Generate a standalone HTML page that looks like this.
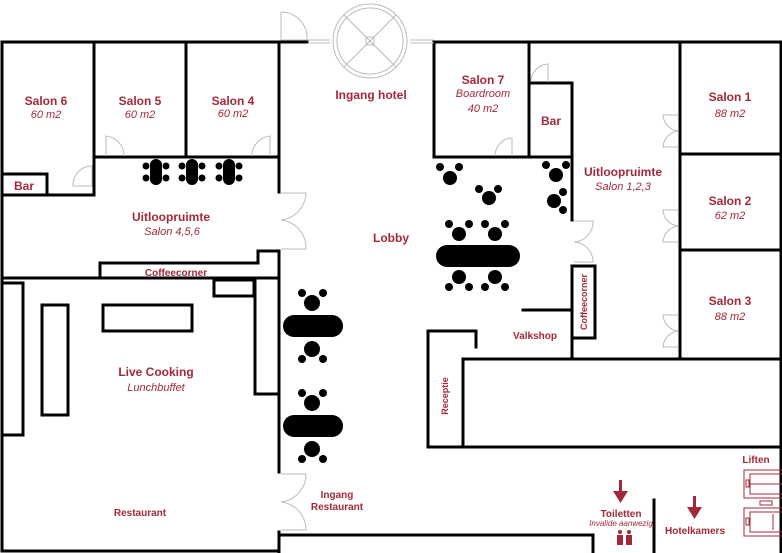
<!DOCTYPE html>
<html><head><meta charset="utf-8"><style>
html,body{margin:0;padding:0;background:#fff;width:782px;height:553px;overflow:hidden}
svg{display:block}
text{font-family:"Liberation Sans",sans-serif;fill:#a3293a}
.b{font-weight:bold;font-size:12px}
.i{font-style:italic;font-size:11px}
</style></head><body>
<svg width="782" height="553" viewBox="0 0 782 553">
<g stroke="#000" stroke-width="3" fill="none" stroke-linecap="square">
<!-- top walls -->
<line x1="2" y1="42" x2="307" y2="42"/>
<line x1="434" y1="42" x2="781" y2="42"/>
<line x1="2" y1="42" x2="2" y2="551"/>
<line x1="2" y1="551" x2="279" y2="551"/>
<!-- salons 4-6 -->
<line x1="94" y1="42" x2="94" y2="195"/>
<line x1="186" y1="42" x2="186" y2="157"/>
<line x1="94" y1="157" x2="279" y2="157"/>
<line x1="279" y1="42" x2="279" y2="192"/>
<rect x="2" y="174" width="45" height="21"/>
<line x1="2" y1="195" x2="94" y2="195"/>
<polyline points="279,251 258,251 258,263 100,263 100,278"/>
<line x1="2" y1="278" x2="279" y2="278"/>
<line x1="279" y1="251" x2="279" y2="472"/>
<line x1="279" y1="532" x2="279" y2="553"/>
<line x1="279" y1="535" x2="593" y2="535"/>
<line x1="593" y1="535" x2="593" y2="553"/>
<!-- restaurant furniture -->
<rect x="2" y="283" width="21" height="152"/>
<rect x="42" y="305" width="26" height="110"/>
<rect x="103" y="305" width="89" height="26"/>
<rect x="214" y="280" width="40" height="16"/>
<polyline points="255,280 255,394 279,394"/>
<!-- right side -->
<rect x="434" y="42" width="95" height="115"/>
<rect x="529" y="83" width="43" height="74"/>
<line x1="572" y1="157" x2="572" y2="220"/>
<rect x="572" y="266" width="23" height="72"/>
<line x1="572" y1="338" x2="572" y2="359"/>
<line x1="680" y1="42" x2="680" y2="359"/>
<line x1="680" y1="154" x2="781" y2="154"/>
<line x1="680" y1="250" x2="781" y2="250"/>
<line x1="463" y1="359" x2="781" y2="359"/>
<line x1="463" y1="359" x2="463" y2="447"/>
<polyline points="476,347 476,331 428,331 428,447 781,447"/>
<line x1="523" y1="310" x2="572" y2="310"/>
<line x1="781" y1="42" x2="781" y2="553"/>
<line x1="654" y1="500" x2="654" y2="553"/>
</g>
<!-- doors (light) -->
<g stroke="#bbb" stroke-width="1" fill="none">
<path d="M281 12 L281 40 L307 40 A26 26 0 0 0 281 12"/>
<path d="M308 40 L330 40 M308 43 L330 43"/>
<path d="M410 40 L434 40 M410 43 L434 43"/>
<circle cx="370" cy="41" r="37"/><circle cx="370" cy="41" r="33"/>
<path d="M344 15 L396 67 M396 15 L344 67"/>
<rect x="366" y="37" width="8" height="8"/>
<path d="M106 156 L106 136 A20 20 0 0 1 124 156"/>
<path d="M270 156 L270 136 A20 20 0 0 0 252 156"/>
<path d="M92 166 L92 186 L73 186 A19 19 0 0 1 92 166"/>
<path d="M281 193 L306 193 A28 28 0 0 1 281 220 A28 28 0 0 1 306 249 L281 249"/>
<path d="M281 474 L306 474 A28 28 0 0 1 281 502 A28 28 0 0 1 306 530 L281 530"/>
<path d="M113 156 A20 20 0 0 0 113 156"/>
<path d="M512 156 L512 138 A18 18 0 0 0 495 156"/>
<path d="M548 82 L548 64 A18 18 0 0 0 531 82"/>
<path d="M574 221 L593 221 A20 20 0 0 1 574 242 A20 20 0 0 1 593 262 L574 262"/>
<path d="M678 115 L663 115 A17 17 0 0 0 678 131 A17 17 0 0 0 663 147 L678 147"/>
<path d="M678 210 L663 210 A17 17 0 0 0 678 226 A17 17 0 0 0 663 242 L678 242"/>
<path d="M678 315 L663 315 A17 17 0 0 0 678 331 A17 17 0 0 0 663 347 L678 347"/>
</g>
<!-- furniture -->
<g fill="#000">
<rect x="150" y="159" width="12" height="26" rx="6"/><rect x="186" y="159" width="12" height="26" rx="6"/><rect x="223" y="159" width="12" height="26" rx="6"/>
<circle cx="146" cy="166" r="3.5"/><circle cx="146" cy="178" r="3.5"/><circle cx="166" cy="166" r="3.5"/><circle cx="166" cy="178" r="3.5"/>
<circle cx="182" cy="166" r="3.5"/><circle cx="182" cy="178" r="3.5"/><circle cx="202" cy="166" r="3.5"/><circle cx="202" cy="178" r="3.5"/>
<circle cx="219" cy="166" r="3.5"/><circle cx="219" cy="178" r="3.5"/><circle cx="239" cy="166" r="3.5"/><circle cx="239" cy="178" r="3.5"/>
<rect x="283" y="315" width="60" height="22" rx="11"/>
<circle cx="312" cy="303" r="8"/><circle cx="302" cy="293" r="4"/><circle cx="323" cy="293" r="4"/>
<circle cx="312" cy="349" r="8"/><circle cx="302" cy="359" r="4"/><circle cx="323" cy="359" r="4"/>
<rect x="283" y="415" width="60" height="22" rx="11"/>
<circle cx="312" cy="403" r="8"/><circle cx="302" cy="393" r="4"/><circle cx="323" cy="393" r="4"/>
<circle cx="312" cy="449" r="8"/><circle cx="302" cy="459" r="4"/><circle cx="323" cy="459" r="4"/>
<rect x="436" y="245" width="84" height="22" rx="11"/>
<circle cx="459" cy="234" r="7"/><circle cx="449" cy="224" r="4"/><circle cx="469" cy="224" r="4"/>
<circle cx="495" cy="234" r="7"/><circle cx="485" cy="224" r="4"/><circle cx="505" cy="224" r="4"/>
<circle cx="459" cy="277" r="7"/><circle cx="449" cy="287" r="4"/><circle cx="469" cy="287" r="4"/>
<circle cx="495" cy="277" r="7"/><circle cx="485" cy="287" r="4"/><circle cx="505" cy="287" r="4"/>
<circle cx="450" cy="178" r="7"/><circle cx="440" cy="167" r="4"/><circle cx="459" cy="167" r="4"/>
<circle cx="489" cy="198" r="7"/><circle cx="479" cy="189" r="4"/><circle cx="498" cy="189" r="4"/>
<circle cx="556" cy="175" r="7"/><circle cx="546" cy="165" r="4"/><circle cx="566" cy="165" r="4"/>
<circle cx="554" cy="201" r="7"/><circle cx="563" cy="192" r="4"/><circle cx="563" cy="210" r="4"/>
</g>
<!-- lifts -->
<g stroke="#a3293a" stroke-width="1" fill="none">
<rect x="744" y="470" width="40" height="28"/><rect x="750" y="474" width="34" height="20"/><line x1="750" y1="484" x2="784" y2="484"/><rect x="746" y="480" width="3" height="7"/>
<rect x="760" y="501" width="12" height="4"/>
<rect x="744" y="508" width="40" height="28"/><rect x="750" y="512" width="34" height="20"/><line x1="773" y1="514" x2="773" y2="530"/><rect x="746" y="518" width="3" height="7"/>
</g>
<g fill="#a3293a">
<rect x="619" y="480" width="3" height="12"/><polygon points="613,491 628,491 620.5,503"/>
<rect x="693" y="496" width="3" height="12"/><polygon points="687,507 702,507 694.5,519"/>
<circle cx="620" cy="532" r="2"/><rect x="617" y="535" width="6" height="10"/>
<circle cx="629" cy="532" r="2"/><rect x="626" y="535" width="6" height="10"/>
</g>
<!-- labels -->
<g text-anchor="middle">
<text class="b" x="46" y="105">Salon 6</text><text class="i" x="46" y="118">60 m2</text>
<text class="b" x="140" y="105">Salon 5</text><text class="i" x="140" y="118">60 m2</text>
<text class="b" x="233" y="105">Salon 4</text><text class="i" x="233" y="117">60 m2</text>
<text class="b" x="24" y="190">Bar</text>
<text class="b" x="171" y="221">Uitloopruimte</text><text class="i" x="172" y="235">Salon 4,5,6</text>
<text class="b" x="176" y="276" style="font-size:10px">Coffeecorner</text>
<text class="b" x="371" y="99">Ingang hotel</text>
<text class="b" x="391" y="242">Lobby</text>
<text class="b" x="483" y="84">Salon 7</text><text class="i" x="483" y="97">Boardroom</text><text class="i" x="483" y="112">40 m2</text>
<text class="b" x="551" y="125">Bar</text>
<text class="b" x="623" y="176">Uitloopruimte</text><text class="i" x="623" y="190">Salon 1,2,3</text>
<text class="b" x="730" y="101">Salon 1</text><text class="i" x="730" y="117">88 m2</text>
<text class="b" x="730" y="205">Salon 2</text><text class="i" x="730" y="219">62 m2</text>
<text class="b" x="730" y="305">Salon 3</text><text class="i" x="730" y="320">88 m2</text>
<text class="b" x="535" y="339" style="font-size:10px">Valkshop</text>
<text class="b" x="156" y="376">Live Cooking</text><text class="i" x="156" y="391">Lunchbuffet</text>
<text class="b" x="140" y="516" style="font-size:10px">Restaurant</text>
<text class="b" x="337" y="498" style="font-size:10px">Ingang</text><text class="b" x="337" y="510" style="font-size:10px">Restaurant</text>
<text class="b" x="621" y="517" style="font-size:10px">Toiletten</text>
<text class="i" x="621" y="526" style="font-size:8px">Invalide aanwezig</text>
<text class="b" x="695" y="534" style="font-size:10px">Hotelkamers</text>
<text class="b" x="756" y="463" style="font-size:10px">Liften</text>
<text class="b" x="0" y="0" style="font-size:9px" transform="translate(448,396) rotate(-90)">Receptie</text>
<text class="b" x="0" y="0" style="font-size:9px" transform="translate(587,302) rotate(-90)">Coffeecorner</text>
</g>
</svg>
</body></html>
